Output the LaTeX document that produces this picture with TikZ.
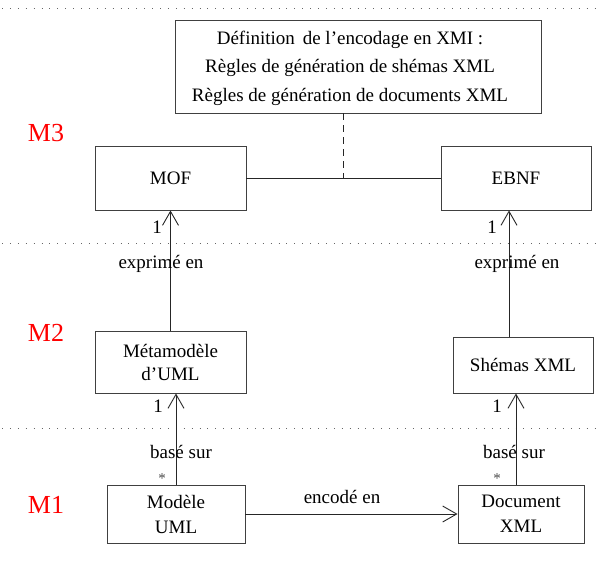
\documentclass[tikz,border=0pt]{standalone}
\usepackage{fontspec}
\setmainfont{Liberation Serif}
\usetikzlibrary{arrows.meta}
\begin{document}
\begin{tikzpicture}[x=1pt,y=-1pt,
  font=\fontsize{19}{23}\selectfont,
  box/.style={draw=black!75, line width=0.9pt, inner sep=0pt, align=center},
  layer/.style={draw=black!60, line width=0.9pt, dash pattern=on 1pt off 6.9pt},
  link/.style={draw=black!85, line width=0.9pt},
  uml/.style={link, -{Straight Barb[length=14pt,width=16pt,line width=0.9pt]}},
  tier/.style={text=red, font=\fontsize{26}{30}\selectfont},
  lbl/.style={inner sep=0pt},
  many/.style={inner sep=0pt, text=black!70, font=\fontsize{15}{18}\selectfont}]
\useasboundingbox (0,0) rectangle (596,564);

% layer separators
\coordinate (s1a) at (2,8);   \coordinate (s1b) at (596,8);
\coordinate (s2a) at (2,243); \coordinate (s2b) at (596,243);
\coordinate (s3a) at (2,428); \coordinate (s3b) at (596,428);
\draw[layer] (s1a) -- (s1b);
\draw[layer] (s2a) -- (s2b);
\draw[layer] (s3a) -- (s3b);

% layer names
\node[tier] (m3) at (46,133) {M3};
\node[tier] (m2) at (46,333) {M2};
\node[tier] (m1) at (46,505) {M1};

% boxes
\node[box, minimum width=366pt, minimum height=93pt] (xmi) at (358,66.5) {};
\node[align=center, inner sep=0pt, font=\fontsize{19}{28.5}\selectfont] (xmitext) at (350,68)
  {Définition \,de l'encodage en XMI :\\ Règles de génération de shémas XML\\ Règles de génération de documents XML};
\node[box, minimum width=151pt, minimum height=64pt] (mof) at (170.5,178) {MOF};
\node[box, minimum width=150pt, minimum height=64pt] (ebnf) at (516,178) {EBNF};
\node[box, minimum width=151pt, minimum height=62pt] (meta) at (170.5,362) {Métamodèle\\d'UML};
\node[box, minimum width=140pt, minimum height=56pt] (shemas) at (523,365) {Shémas XML};
\node[box, minimum width=138pt, minimum height=58pt, font=\fontsize{19}{25}\selectfont] (modele) at (176,514) {Modèle\\UML};
\node[box, minimum width=126pt, minimum height=58pt, font=\fontsize{19}{25}\selectfont] (doc) at (521,514) {Document\\XML};

% M3 links
\draw[link] (mof.east) -- (ebnf.west);
\draw[link, dash pattern=on 7pt off 5pt] ([xshift=-15pt]xmi.south) -- ([xshift=-15pt]xmi.south |- mof.east);

% associations
\draw[uml] (meta.north) -- (mof.south);
\draw[uml] ([xshift=-14pt]shemas.north) -- ([xshift=-14pt]shemas.north |- ebnf.south);
\draw[uml] (modele.north) -- (modele.north |- meta.south);
\draw[uml] ([xshift=-5pt]doc.north) -- ([xshift=-5pt]doc.north |- shemas.south);
\draw[uml] (modele.east) -- (doc.west);

% association labels
\node[lbl] (e1) at (161,264) {exprimé en};
\node[lbl] (e2) at (517,264) {exprimé en};
\node[lbl] (b1) at (181,452) {basé sur};
\node[lbl] (b2) at (514,452) {basé sur};
\node[lbl] (enc) at (342,497) {encodé en};

% multiplicities
\node[lbl] (n1) at (157,227) {1};
\node[lbl] (n2) at (492,227) {1};
\node[lbl] (n3) at (158,406) {1};
\node[lbl] (n4) at (497,406) {1};
\node[many] (k1) at (162,479) {*};
\node[many] (k2) at (497,479) {*};
\end{tikzpicture}
\end{document}
